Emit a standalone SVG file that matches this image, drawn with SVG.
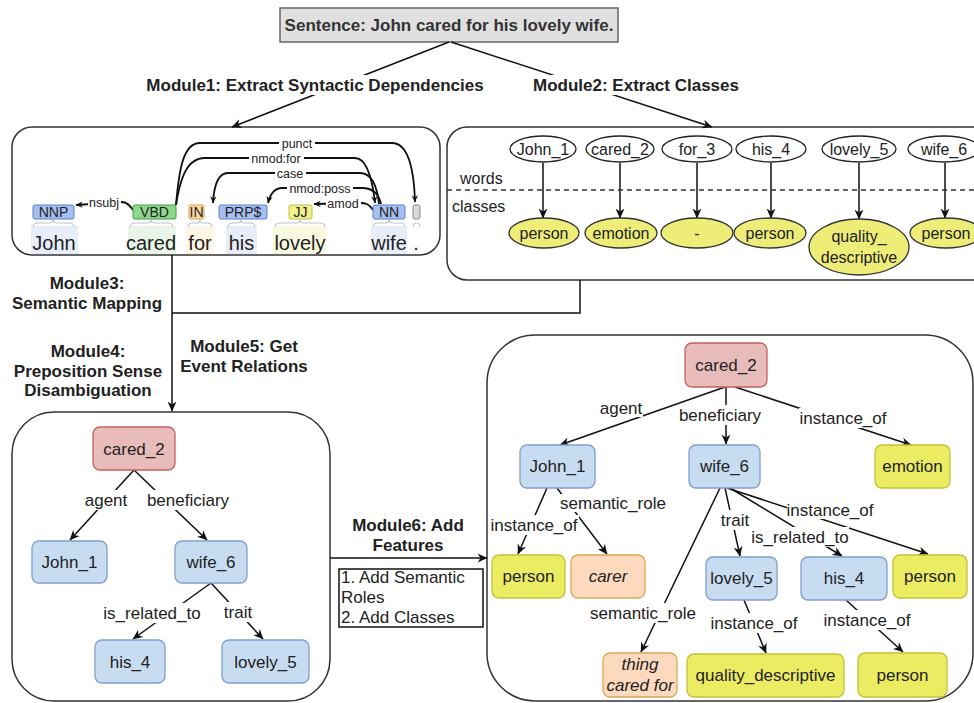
<svg xmlns="http://www.w3.org/2000/svg" width="974" height="703" viewBox="0 0 974 703">
<defs>
<marker id="ah" viewBox="0 0 10 10" refX="9.5" refY="5" markerWidth="10" markerHeight="10" markerUnits="userSpaceOnUse" orient="auto"><path d="M0,0.5 L10,5 L0,9.5 L3,5 z" fill="#111"/></marker>
<marker id="as" viewBox="0 0 10 10" refX="9.5" refY="5" markerWidth="7" markerHeight="7" markerUnits="userSpaceOnUse" orient="auto"><path d="M0,0.5 L10,5 L0,9.5 L3,5 z" fill="#111"/></marker>
<style>
text{font-family:"Liberation Sans",Arial,sans-serif;fill:#222}
.b{font-weight:bold}
.t17{font-size:17px}
.t16{font-size:16px}
.t14{font-size:14px}
.t12{font-size:12.5px}
.t20{font-size:20px}
.c{text-anchor:middle}
.i{font-style:italic}
.frame{fill:#fff;stroke:#333;stroke-width:1.5}
.pink{fill:#e8bcbb;stroke:#c0605c;stroke-width:1.3}
.blue{fill:#c8dcf1;stroke:#7f9fcc;stroke-width:1.3}
.yel{fill:#ecec62;stroke:#c2c23a;stroke-width:1.3}
.peach{fill:#fddabd;stroke:#d9a857;stroke-width:1.3}
.ew{fill:#fff;stroke:#222;stroke-width:1.3}
.ey{fill:#eded78;stroke:#333;stroke-width:1.3}
.ln{fill:none;stroke:#111;stroke-width:1.5}
.dep{fill:none;stroke:#111;stroke-width:1.8}
.bg{fill:#fff}
.brace{fill:none;stroke:#b8c4cc;stroke-width:1}
</style>
</defs>

<!-- frames -->
<g id="sentence">
<rect x="280" y="8" width="338" height="34" fill="#e0e0e0" stroke="#666" stroke-width="1.5"/>
<text x="449" y="31" class="t17 b c" style="fill:#333">Sentence: John cared for his lovely wife.</text>
</g>
<g id="depbox">
<rect x="12" y="127" width="428" height="128" rx="20" class="frame"/>
</g>
<g id="classbox">
<rect x="447" y="127" width="545" height="153" rx="20" class="frame"/>
</g>
<g id="graphbox1">
<rect x="12" y="412" width="318" height="289" rx="42" class="frame"/>
</g>
<g id="graphbox2">
<rect x="487" y="335" width="486" height="366" rx="48" class="frame"/>
</g>

<!-- connectors -->
<g id="connectors">
<line x1="449" y1="42" x2="232" y2="127" class="ln" marker-end="url(#ah)"/>
<line x1="451" y1="42" x2="712" y2="127" class="ln" marker-end="url(#ah)"/>
<path d="M172,255 L172,411" class="ln" marker-end="url(#ah)"/>
<path d="M580,280 L580,313 L172,313" class="ln"/>
<path d="M330,558 L487,558" class="ln" marker-end="url(#ah)"/>
<!-- class arrows -->
<line x1="543" y1="163" x2="543" y2="218" class="ln" marker-end="url(#ah)"/>
<line x1="620" y1="163" x2="620" y2="218" class="ln" marker-end="url(#ah)"/>
<line x1="697" y1="163" x2="697" y2="218" class="ln" marker-end="url(#ah)"/>
<line x1="771" y1="163" x2="771" y2="218" class="ln" marker-end="url(#ah)"/>
<line x1="859" y1="163" x2="859" y2="219" class="ln" marker-end="url(#ah)"/>
<line x1="945" y1="163" x2="945" y2="218" class="ln" marker-end="url(#ah)"/>
<line x1="447" y1="190" x2="974" y2="190" stroke="#333" stroke-width="1.5" stroke-dasharray="5,4"/>
<!-- dependency arcs -->
<path d="M176,205 C179,170 183,143 200,143 L392,143 C408,143 414,170 415,202" class="dep" marker-end="url(#as)"/>
<path d="M176,205 C180,180 186,158 205,158 L355,158 C368,158 373,185 375,203" class="dep" marker-end="url(#as)"/>
<path d="M379,204 C377,185 372,173 360,173 L228,173 C218,173 214,185 213,203" class="dep" marker-end="url(#as)"/>
<path d="M381,204 C379,195 374,188 362,188 L282,188 C274,188 270,195 268,203" class="dep" marker-end="url(#as)"/>
<path d="M373,210 C369,204 366,203 360,203 L314,204" class="dep" marker-end="url(#as)"/>
<path d="M133,210 C129,204 126,202 122,202 L76,205" class="dep" marker-end="url(#as)"/>
<!-- graph 1 -->
<line x1="134" y1="470" x2="70" y2="540" class="ln" marker-end="url(#ah)"/>
<line x1="134" y1="470" x2="207" y2="540" class="ln" marker-end="url(#ah)"/>
<line x1="211" y1="583" x2="133" y2="639" class="ln" marker-end="url(#ah)"/>
<line x1="211" y1="583" x2="263" y2="639" class="ln" marker-end="url(#ah)"/>
<!-- graph 2 -->
<line x1="725" y1="387" x2="560" y2="445" class="ln" marker-end="url(#ah)"/>
<line x1="726" y1="387" x2="726" y2="444" class="ln" marker-end="url(#ah)"/>
<line x1="735" y1="387" x2="911" y2="445" class="ln" marker-end="url(#ah)"/>
<line x1="547" y1="488" x2="518" y2="554" class="ln" marker-end="url(#ah)"/>
<line x1="557" y1="488" x2="607" y2="554" class="ln" marker-end="url(#ah)"/>
<line x1="725" y1="488" x2="740" y2="556" class="ln" marker-end="url(#ah)"/>
<line x1="730" y1="488" x2="842" y2="556" class="ln" marker-end="url(#ah)"/>
<line x1="727" y1="488" x2="928" y2="554" class="ln" marker-end="url(#ah)"/>
<line x1="720" y1="488" x2="641" y2="652" class="ln" marker-end="url(#ah)"/>
<line x1="744" y1="600" x2="766" y2="653" class="ln" marker-end="url(#ah)"/>
<line x1="846" y1="600" x2="903" y2="652" class="ln" marker-end="url(#ah)"/>
</g>

<!-- edge / module labels -->
<g id="labels">
<rect x="145" y="75" width="340" height="20" class="bg"/>
<text x="315" y="91" class="t17 b c">Module1: Extract Syntactic Dependencies</text>
<rect x="531" y="75" width="210" height="20" class="bg"/>
<text x="636" y="91" class="t17 b c">Module2: Extract Classes</text>
<text x="87" y="289" class="t17 b c">Module3:</text>
<text x="87" y="309" class="t17 b c">Semantic Mapping</text>
<text x="88" y="357" class="t17 b c">Module4:</text>
<text x="88" y="377" class="t17 b c">Preposition Sense</text>
<text x="88" y="396" class="t17 b c">Disambiguation</text>
<text x="244" y="352" class="t17 b c">Module5: Get</text>
<text x="244" y="372" class="t17 b c">Event Relations</text>
<text x="408" y="531" class="t17 b c">Module6: Add</text>
<text x="408" y="551" class="t17 b c">Features</text>
<rect x="339" y="569" width="144" height="58" fill="#fff" stroke="#111" stroke-width="1.5"/>
<text x="341" y="583" class="t17">1. Add Semantic</text>
<text x="341" y="603" class="t17">Roles</text>
<text x="341" y="623" class="t17">2. Add Classes</text>
<text x="460" y="184" class="t16">words</text>
<text x="452" y="212" class="t16">classes</text>
<!-- dep labels -->
<rect x="279" y="137" width="36" height="12" class="bg"/><text x="297" y="147.5" class="t12 c">punct</text>
<rect x="249" y="152" width="55" height="12" class="bg"/><text x="276" y="162.5" class="t12 c">nmod:for</text>
<rect x="275" y="167" width="31" height="12" class="bg"/><text x="290" y="177.5" class="t12 c">case</text>
<rect x="287" y="182" width="66" height="12" class="bg"/><text x="320" y="192.5" class="t12 c">nmod:poss</text>
<rect x="326" y="197" width="35" height="12" class="bg"/><text x="343" y="207.5" class="t12 c">amod</text>
<rect x="88" y="196" width="33" height="12" class="bg"/><text x="104" y="206.5" class="t12 c">nsubj</text>
<!-- graph 1 labels -->
<rect x="84" y="490" width="45" height="20" class="bg"/><text x="106" y="506" class="t17 c">agent</text>
<rect x="146" y="490" width="85" height="20" class="bg"/><text x="188" y="506" class="t17 c">beneficiary</text>
<rect x="103" y="603" width="99" height="20" class="bg"/><text x="152" y="619" class="t17 c">is_related_to</text>
<rect x="223" y="602" width="31" height="20" class="bg"/><text x="238" y="618" class="t17 c">trait</text>
<!-- graph 2 labels -->
<rect x="599" y="399" width="44" height="18" class="bg"/><text x="621" y="414" class="t17 c">agent</text>
<rect x="678" y="405" width="85" height="20" class="bg"/><text x="720" y="421" class="t17 c">beneficiary</text>
<rect x="799" y="408" width="89" height="20" class="bg"/><text x="843" y="424" class="t17 c">instance_of</text>
<rect x="560" y="494" width="108" height="18" class="bg"/><text x="613" y="509" class="t17 c">semantic_role</text>
<rect x="490" y="515" width="89" height="20" class="bg"/><text x="534" y="531" class="t17 c">instance_of</text>
<rect x="721" y="510" width="29" height="20" class="bg"/><text x="735" y="526" class="t17 c">trait</text>
<rect x="752" y="527" width="97" height="20" class="bg"/><text x="800" y="543" class="t17 c">is_related_to</text>
<rect x="787" y="500" width="87" height="19" class="bg"/><text x="830" y="516" class="t17 c">instance_of</text>
<rect x="590" y="603" width="108" height="20" class="bg"/><text x="643" y="619" class="t17 c">semantic_role</text>
<rect x="710" y="613" width="89" height="20" class="bg"/><text x="754" y="629" class="t17 c">instance_of</text>
<rect x="823" y="610" width="89" height="20" class="bg"/><text x="867" y="626" class="t17 c">instance_of</text>
</g>

<!-- dependency parse tokens -->
<g id="tok-john">
<rect x="31" y="226" width="47" height="28" fill="#e8eef9"/>
<rect x="33" y="205" width="41" height="14" rx="2" fill="#a6bff0" stroke="#5a7fc8"/>
<text x="53.5" y="217" class="t14 c">NNP</text>
<path d="M33,227 Q33,223 37,223 L50,223 Q53,223 53,220 Q53,223 56,223 L70,223 Q74,223 74,227" class="brace"/>
<text x="54" y="250" class="t20 c">John</text>
</g>
<g id="tok-cared">
<rect x="128" y="226" width="48" height="28" fill="#e8f5e8"/>
<rect x="133" y="205" width="43" height="14" rx="2" fill="#8ed88e" stroke="#3aa03a"/>
<text x="154.5" y="217" class="t14 c">VBD</text>
<path d="M130,227 Q130,223 134,223 L148,223 Q151,223 151,220 Q151,223 154,223 L169,223 Q173,223 173,227" class="brace"/>
<text x="151" y="250" class="t20 c">cared</text>
</g>
<g id="tok-for">
<rect x="186" y="226" width="28" height="28" fill="#fff6e6"/>
<rect x="189" y="205" width="15" height="14" rx="2" fill="#fbd9a6" stroke="#e0a040"/>
<text x="196.5" y="217" class="t14 c">IN</text>
<path d="M188,227 Q188,223 192,223 L197,223 Q200,223 200,220 Q200,223 203,223 L208,223 Q212,223 212,227" class="brace"/>
<text x="200" y="250" class="t20 c">for</text>
</g>
<g id="tok-his">
<rect x="226" y="226" width="31" height="28" fill="#e8eef9"/>
<rect x="219" y="205" width="48" height="14" rx="2" fill="#a6bff0" stroke="#5a7fc8"/>
<text x="243" y="217" class="t14 c">PRP$</text>
<path d="M228,227 Q228,223 232,223 L238,223 Q241,223 241,220 Q241,223 244,223 L251,223 Q255,223 255,227" class="brace"/>
<text x="241.5" y="250" class="t20 c">his</text>
</g>
<g id="tok-lovely">
<rect x="273" y="226" width="54" height="28" fill="#fafae0"/>
<rect x="289" y="205" width="23" height="14" rx="2" fill="#f0f08c" stroke="#c8c040"/>
<text x="300.5" y="217" class="t14 c">JJ</text>
<path d="M275,227 Q275,223 279,223 L297,223 Q300,223 300,220 Q300,223 303,223 L321,223 Q325,223 325,227" class="brace"/>
<text x="300" y="250" class="t20 c">lovely</text>
</g>
<g id="tok-wife">
<rect x="371" y="226" width="36" height="28" fill="#e8eef9"/>
<rect x="373" y="205" width="32" height="14" rx="2" fill="#a6bff0" stroke="#5a7fc8"/>
<text x="389" y="217" class="t14 c">NN</text>
<path d="M373,227 Q373,223 377,223 L386,223 Q389,223 389,220 Q389,223 392,223 L401,223 Q405,223 405,227" class="brace"/>
<text x="389" y="250" class="t20 c">wife</text>
</g>
<g id="tok-dot">
<rect x="413" y="205" width="7" height="14" rx="2" fill="#d8d8d8" stroke="#888"/>
<path d="M413,227 Q413,223 416.5,223 Q420,223 420,227" class="brace"/>
<text x="416" y="250" class="t20 c">.</text>
</g>

<!-- words and classes -->
<g id="w-john"><ellipse cx="543" cy="149" rx="33" ry="13" class="ew"/><text x="543" y="155" class="t16 c">John_1</text></g>
<g id="w-cared"><ellipse cx="620" cy="149" rx="34" ry="13" class="ew"/><text x="620" y="155" class="t16 c">cared_2</text></g>
<g id="w-for"><ellipse cx="697" cy="149" rx="35" ry="13" class="ew"/><text x="697" y="155" class="t16 c">for_3</text></g>
<g id="w-his"><ellipse cx="771" cy="149" rx="35" ry="13" class="ew"/><text x="771" y="155" class="t16 c">his_4</text></g>
<g id="w-lovely"><ellipse cx="859" cy="149" rx="37" ry="13" class="ew"/><text x="859" y="155" class="t16 c">lovely_5</text></g>
<g id="w-wife"><ellipse cx="944" cy="149" rx="36" ry="13" class="ew"/><text x="944" y="155" class="t16 c">wife_6</text></g>
<g id="c-person1"><ellipse cx="544" cy="233" rx="35" ry="15" class="ey"/><text x="544" y="239" class="t16 c">person</text></g>
<g id="c-emotion"><ellipse cx="621" cy="233" rx="36" ry="15" class="ey"/><text x="621" y="239" class="t16 c">emotion</text></g>
<g id="c-dash"><ellipse cx="697" cy="233" rx="36" ry="15" class="ey"/><text x="697" y="239" class="t16 c">-</text></g>
<g id="c-person2"><ellipse cx="770" cy="233" rx="36" ry="15" class="ey"/><text x="770" y="239" class="t16 c">person</text></g>
<g id="c-quality"><ellipse cx="859" cy="247" rx="50" ry="28" class="ey"/><text x="859" y="242" class="t16 c">quality_</text><text x="859" y="263" class="t16 c">descriptive</text></g>
<g id="c-person3"><ellipse cx="946" cy="233" rx="36" ry="15" class="ey"/><text x="946" y="239" class="t16 c">person</text></g>

<!-- graph 1 nodes -->
<g id="g1-cared"><rect x="93" y="427" width="82" height="43" rx="7" class="pink"/><text x="134" y="455" class="t17 c">cared_2</text></g>
<g id="g1-john"><rect x="32" y="541" width="75" height="42" rx="7" class="blue"/><text x="69.5" y="568" class="t17 c">John_1</text></g>
<g id="g1-wife"><rect x="175" y="541" width="72" height="42" rx="7" class="blue"/><text x="211" y="568" class="t17 c">wife_6</text></g>
<g id="g1-his"><rect x="95" y="640" width="70" height="43" rx="7" class="blue"/><text x="130" y="668" class="t17 c">his_4</text></g>
<g id="g1-lovely"><rect x="222" y="640" width="87" height="43" rx="7" class="blue"/><text x="265.5" y="668" class="t17 c">lovely_5</text></g>

<!-- graph 2 nodes -->
<g id="g2-cared"><rect x="685" y="343" width="82" height="44" rx="7" class="pink"/><text x="726" y="371" class="t17 c">cared_2</text></g>
<g id="g2-john"><rect x="520" y="445" width="75" height="43" rx="7" class="blue"/><text x="557.5" y="472" class="t17 c">John_1</text></g>
<g id="g2-wife"><rect x="689" y="445" width="71" height="43" rx="7" class="blue"/><text x="724.5" y="472" class="t17 c">wife_6</text></g>
<g id="g2-emotion"><rect x="875" y="445" width="75" height="43" rx="7" class="yel"/><text x="912.5" y="472" class="t17 c">emotion</text></g>
<g id="g2-person1"><rect x="492" y="555" width="73" height="43" rx="7" class="yel"/><text x="528.5" y="582" class="t17 c">person</text></g>
<g id="g2-carer"><rect x="571" y="555" width="74" height="43" rx="7" class="peach"/><text x="608" y="582" class="t17 c i">carer</text></g>
<g id="g2-lovely"><rect x="706" y="557" width="71" height="43" rx="7" class="blue"/><text x="741.5" y="584" class="t17 c">lovely_5</text></g>
<g id="g2-his"><rect x="801" y="557" width="86" height="43" rx="7" class="blue"/><text x="844" y="584" class="t17 c">his_4</text></g>
<g id="g2-person2"><rect x="893" y="555" width="74" height="43" rx="7" class="yel"/><text x="930" y="582" class="t17 c">person</text></g>
<g id="g2-thing"><rect x="603" y="653" width="74" height="44" rx="7" class="peach"/><text x="640" y="670" class="t17 c i">thing</text><text x="640" y="691" class="t17 c i">cared for</text></g>
<g id="g2-quality"><rect x="687" y="654" width="157" height="43" rx="7" class="yel"/><text x="765.5" y="681" class="t17 c">quality_descriptive</text></g>
<g id="g2-person3"><rect x="858" y="653" width="89" height="44" rx="7" class="yel"/><text x="902.5" y="681" class="t17 c">person</text></g>
</svg>
